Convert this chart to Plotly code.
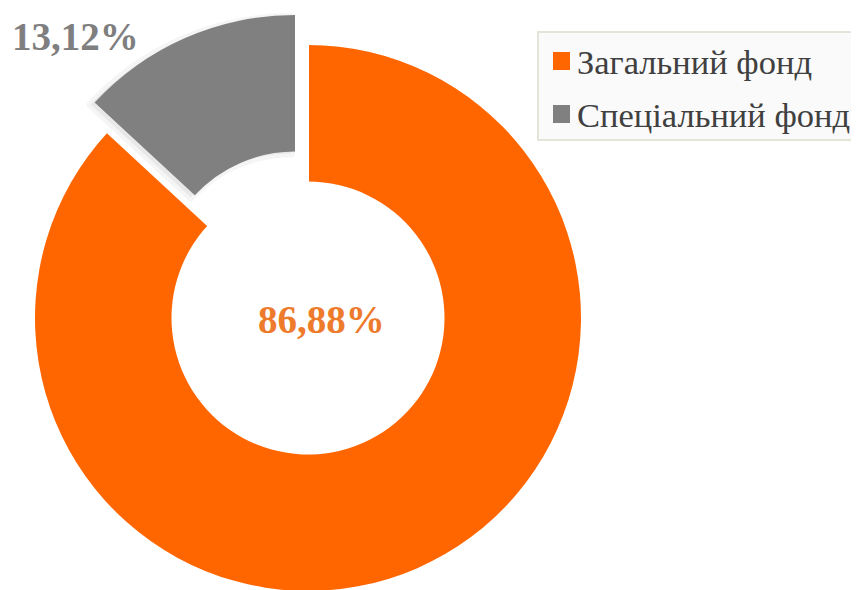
import plotly.graph_objects as go

labels = ["Загальний фонд", "Спеціальний фонд"]
values = [86.88, 13.12]
colors = ["#FF6600", "#808080"]
text_colors = ["#EE7A2C", "#7F7F7F"]

W, H = 859, 590
OFF = 8  # page body margin of the browser
cx, cy_top, R = 308 - OFF, 318 - OFF, 273  # pixel centre / radius
dx, dy = -13, -30               # exploded offset of second slice
SERIF = "Liberation Serif"

def px(x):
    return (x - OFF) / W

def py(y):
    return 1 - (y - OFF) / H

def dom(cx_, cy_):
    cyb = H - cy_
    return dict(x=[(cx_ - R) / W, (cx_ + R) / W],
                y=[max(0, (cyb - R) / H), min(1, (cyb + R) / H)])

common = dict(labels=labels, values=values, hole=0.5, sort=False,
              direction="clockwise", rotation=0, textinfo="none",
              hoverinfo="label+percent", showlegend=False)

fig = go.Figure()
fig.add_trace(go.Pie(**common, domain=dom(cx, cy_top),
                     marker=dict(colors=colors, line=dict(width=0))))
fig.add_trace(go.Pie(**common, domain=dom(cx, cy_top),
                     marker=dict(colors=["rgba(0,0,0,0)", "white"],
                                 line=dict(color=["rgba(0,0,0,0)", "white"], width=2))))
fig.add_trace(go.Pie(**common, domain=dom(cx + dx - 4, cy_top + dy + 2),
                     marker=dict(colors=["rgba(0,0,0,0)", "rgba(0,0,0,0.05)"],
                                 line=dict(color=["rgba(0,0,0,0)", "rgba(0,0,0,0.04)"], width=8))))
fig.add_trace(go.Pie(**common, domain=dom(cx + dx, cy_top + dy),
                     marker=dict(colors=["rgba(0,0,0,0)", colors[1]], line=dict(width=0))))

def fmt(v):
    return f"{v:.2f}".replace(".", ",") + "%"

fig.add_annotation(x=px(321), y=py(319), xref="paper", yref="paper",
                   xanchor="center", yanchor="middle",
                   text=fmt(values[0]), showarrow=False,
                   font=dict(family=SERIF, size=39, color=text_colors[0], weight="bold"))
fig.add_annotation(x=px(75), y=py(36), xref="paper", yref="paper",
                   xanchor="center", yanchor="middle",
                   text=fmt(values[1]), showarrow=False,
                   font=dict(family=SERIF, size=39, color=text_colors[1], weight="bold"))

# legend (drawn manually so the serif face is honoured)
fig.add_shape(type="rect", xref="paper", yref="paper",
              x0=px(538), x1=px(880), y0=py(32), y1=py(140),
              fillcolor="#FAFAFA", line=dict(color="#E4E4D8", width=2), layer="below")
row_y = [61, 114]
for lab, col, ry in zip(labels, colors, row_y):
    fig.add_shape(type="rect", xref="paper", yref="paper",
                  x0=px(553), x1=px(570), y0=py(ry - 9), y1=py(ry + 9),
                  fillcolor=col, line=dict(width=0))
    fig.add_annotation(x=px(575), y=py(ry + 1), xref="paper", yref="paper",
                       xanchor="left", yanchor="middle", text=lab, showarrow=False,
                       font=dict(family=SERIF, size=34.5, color="#404040"))

fig.update_layout(
    width=W, height=H, margin=dict(l=0, r=0, t=0, b=0),
    paper_bgcolor="white", plot_bgcolor="white",
    font=dict(family=SERIF), showlegend=False,
)
fig.write_html("out.html")
